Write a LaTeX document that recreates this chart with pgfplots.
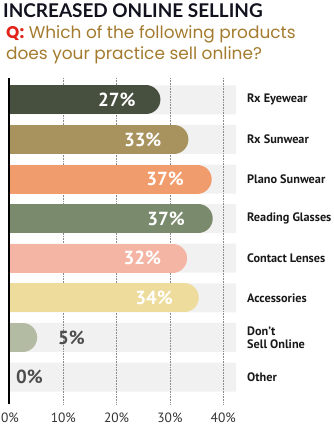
\documentclass[border=0pt]{standalone}
\usepackage{pgfplots}
\pgfplotsset{compat=1.18}
\usepackage{fontspec}
\setmainfont{PT Sans}
\newfontfamily\titlefont{Lato}
\newfontfamily\qfont{Poppins}
\definecolor{titlecol}{HTML}{12121F}
\definecolor{qred}{HTML}{E2231A}
\definecolor{gold}{HTML}{A47B2E}
\definecolor{bggray}{HTML}{F1F1F1}
\definecolor{cA}{HTML}{474F3E}
\definecolor{cB}{HTML}{A8925E}
\definecolor{cC}{HTML}{F09C6C}
\definecolor{cD}{HTML}{7A8A6C}
\definecolor{cE}{HTML}{F5B5A5}
\definecolor{cF}{HTML}{EEDC9C}
\definecolor{cG}{HTML}{B3BCA2}
\definecolor{lblgray}{HTML}{4D4D4D}
\tikzset{vlabel/.style={inner sep=0, font=\bfseries\fontsize{19}{19}\selectfont},
  gline/.style={densely dotted, black!45, line width=0.6bp}}
\begin{document}
\begin{tikzpicture}
\useasboundingbox (0bp,0bp) rectangle (334bp,-427bp);
\node[anchor=base west, inner sep=0, text=titlecol] at (3bp,-17bp) {\titlefont\bfseries\fontsize{19}{19}\selectfont INCREASED ONLINE SELLING};
\node[anchor=base west, inner sep=0] at (6bp,-38.5bp) {\qfont\fontsize{17}{17}\selectfont\textcolor{qred}{\bfseries Q:} \textcolor{gold}{Which of the following products}};
\node[anchor=base west, inner sep=0] at (6bp,-59bp) {\qfont\fontsize{17}{17}\selectfont\textcolor{gold}{does your practice sell online?}};
\begin{axis}[
  at={(10bp,-78bp)}, anchor=north west,
  scale only axis, width=226bp, height=326bp,
  xmin=0, xmax=42.4, ymin=-0.55, ymax=7.68, y dir=reverse,
  axis line style={draw=none}, tick style={draw=none},
  /pgf/number format/assume math mode=true,
  xtick={0,10,20,30,40},
  xticklabel={\pgfmathprintnumber{\tick}\%},
  xticklabel style={font=\fontsize{13.5}{14}\selectfont, text=black!80, yshift=-5bp},
  ytick={0,...,7},
  yticklabels={Rx Eyewear, Rx Sunwear, Plano Sunwear, Reading Glasses, Contact Lenses, Accessories, {Don’t\\Sell Online}, Other},
  yticklabel pos=right,
  yticklabel style={anchor=west, align=left, inner sep=0, xshift=11bp, font=\bfseries\fontsize{12.3}{13.5}\selectfont, text=black!90},
]
\addplot[xbar, bar shift=0pt, bar width=29bp, fill=bggray, draw=none]
  coordinates {(42.4,0) (42.4,1) (42.4,2) (42.4,3) (42.4,4) (42.4,5) (42.4,6) (42.4,7)};
\addplot[gline] coordinates {(10,-0.55) (10,7.68)};
\addplot[gline] coordinates {(20,-0.55) (20,7.68)};
\addplot[gline] coordinates {(30,-0.55) (30,7.68)};
\addplot[gline] coordinates {(40,-0.55) (40,7.68)};
\addplot[cA, line width=29bp, line cap=round, shorten >=8bp] coordinates {(0,0) (27,0)}
  node[pos=1, anchor=east, xshift=-4bp, text=white, vlabel] {27\%};
\addplot[cB, line width=29bp, line cap=round, shorten >=12bp] coordinates {(0,1) (33,1)}
  node[pos=1, anchor=east, xshift=-10bp, text=white, vlabel] {33\%};
\addplot[cC, line width=29bp, line cap=round, shorten >=10bp] coordinates {(0,2) (37,2)}
  node[pos=1, anchor=east, xshift=-9bp, text=white, vlabel] {37\%};
\addplot[cD, line width=29bp, line cap=round, shorten >=9bp] coordinates {(0,3) (37,3)}
  node[pos=1, anchor=east, xshift=-8bp, text=white, vlabel] {37\%};
\addplot[cE, line width=29bp, line cap=round, shorten >=8bp] coordinates {(0,4) (32,4)}
  node[pos=1, anchor=east, xshift=-5bp, text=white, vlabel] {32\%};
\addplot[cF, line width=29bp, line cap=round, shorten >=7bp] coordinates {(0,5) (34,5)}
  node[pos=1, anchor=east, xshift=-4bp, text=white, vlabel] {34\%};
\addplot[cG, line width=29bp, line cap=round, shorten >=14bp] coordinates {(0,6) (5,6)}
  node[pos=1, anchor=west, xshift=7bp, text=lblgray, vlabel] {5\%};
\node[anchor=west, xshift=6bp, text=lblgray, vlabel] at (axis cs:0,7) {0\%};
\end{axis}
\draw[black, line width=1.8bp] ([xshift=-0.9bp]current axis.north west) -- ([xshift=-0.9bp]current axis.south west);
\end{tikzpicture}
\end{document}
